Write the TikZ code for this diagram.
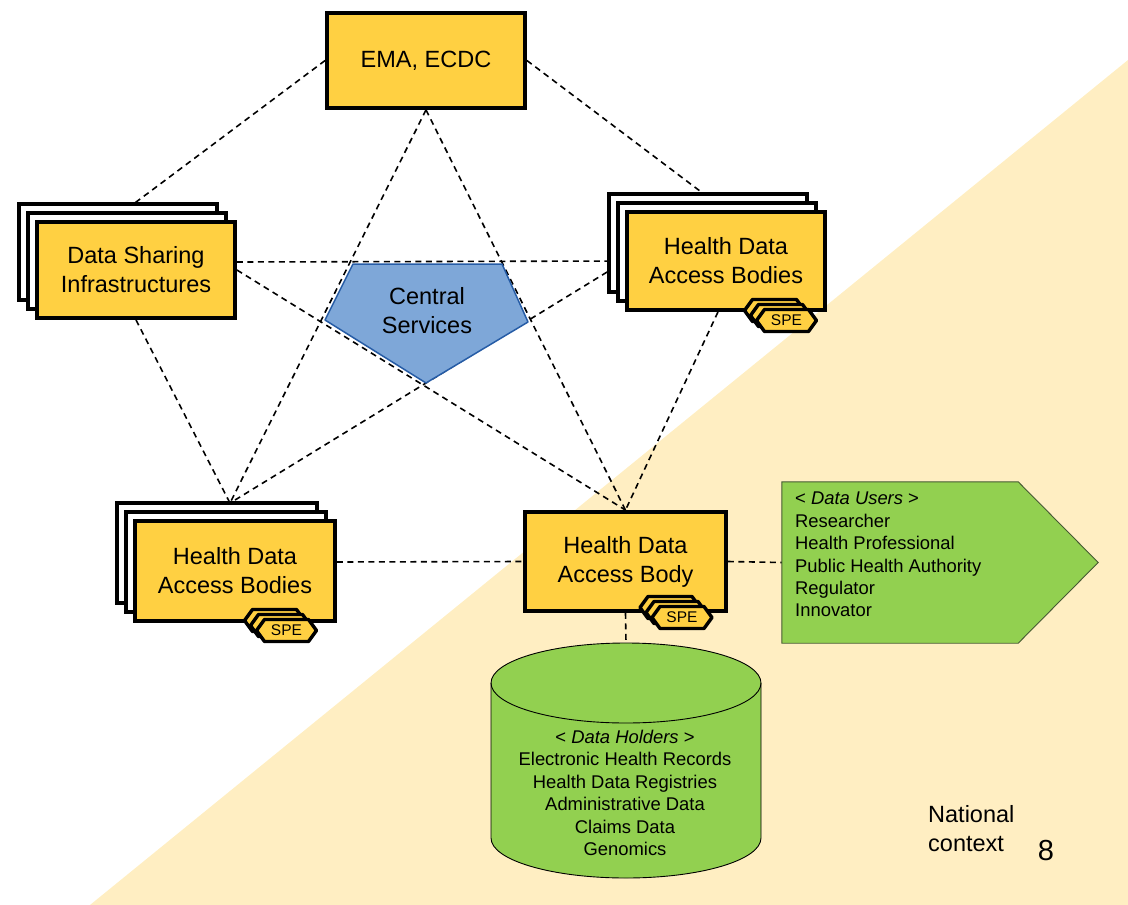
\documentclass[tikz,border=0pt]{standalone}
\usepackage{fontspec}
\setmainfont{Liberation Sans}
\usetikzlibrary{calc}
\definecolor{boxyellow}{RGB}{255,208,66}
\definecolor{beige}{RGB}{255,238,194}
\definecolor{ugreen}{RGB}{146,208,80}
\definecolor{ugreenline}{RGB}{70,90,50}
\definecolor{csblue}{RGB}{126,167,216}
\definecolor{csborder}{RGB}{38,92,166}
\newcommand\bxfont{\fontsize{23.5}{29}\selectfont}
\newcommand\smfont{\fontsize{18.4}{22.4}\selectfont}
\newcommand\spfont{\fontsize{15.5}{18}\selectfont}
\pgfdeclarelayer{back}
\pgfdeclarelayer{lines}
\pgfsetlayers{back,lines,main}
\tikzset{
  box/.style={draw=black, line width=3.8pt, fill=boxyellow, inner sep=0pt, align=center, font=\bxfont},
  layer/.style={draw=black, line width=3.8pt, fill=white, inner sep=0pt},
  conn/.style={line width=1.6pt, dash pattern=on 6pt off 4.5pt},
  hexa/.style={draw=black, line width=3.4pt, fill=boxyellow, line join=round},
  plain/.style={inner sep=0pt, font=\bxfont},
  spe/.pic={
    \foreach \d in {2,1,0} {
      \draw[hexa, shift={(-6*\d,5*\d)}] (-30,0) -- (-22,11) -- (22,11) -- (30,0) -- (22,-11) -- (-22,-11) -- cycle;
    }
    \node[inner sep=0pt, font=\spfont] (-t) at (0,0) {SPE};
  }
}
\begin{document}
\begin{tikzpicture}[x=1pt,y=1pt]
\useasboundingbox (0,0) rectangle (1128,-905);
\begin{pgfonlayer}{back}
  \fill[beige] (90,-905) -- (1128,-60) -- (1128,-905) -- cycle;
\end{pgfonlayer}

% Central Services pentagon
\draw[fill=csblue, draw=csborder, line width=1.5pt, line join=round]
  (353,-264) -- (502,-264) -- (528,-322) -- (426,-383) -- (325,-320) -- cycle;
\node[plain, align=center] (cs) at (427,-311) {Central\\Services};

% EMA
\node[box, minimum width=198pt, minimum height=95pt] (ema) at (426,-60.5) {EMA, ECDC};

% Data Sharing Infrastructures stack
\node[layer, minimum width=198pt, minimum height=96pt] (dsiC) at (118,-252) {};
\node[layer, minimum width=198pt, minimum height=96pt] (dsiB) at (127,-261) {};
\node[box, minimum width=198pt, minimum height=96pt] (dsi) at (136,-270) {Data Sharing\\Infrastructures};

% HDABs top right
\node[layer, minimum width=198pt, minimum height=98pt] (trC) at (708,-243) {};
\node[layer, minimum width=198pt, minimum height=98pt] (trB) at (717,-252) {};
\node[box, minimum width=198pt, minimum height=98pt] (hdabTR) at (726,-261) {Health Data\\Access Bodies};
\pic (speTR) at (786.5,-320.5) {spe};

% HDABs bottom left
\node[layer, minimum width=200pt, minimum height=100pt] (blC) at (217,-553) {};
\node[layer, minimum width=200pt, minimum height=100pt] (blB) at (226,-562) {};
\node[box, minimum width=200pt, minimum height=100pt] (hdabBL) at (235,-571) {Health Data\\Access Bodies};
\pic (speBL) at (286.5,-630.5) {spe};

% HDAB single
\node[box, minimum width=201pt, minimum height=99pt] (hdab) at (625.5,-561.5) {Health Data\\Access Body};
\pic (speH) at (682,-617.5) {spe};

% Data users
\node[inner sep=0pt, minimum width=236pt, minimum height=161pt] (users) at (900,-562.5) {};
\draw[fill=ugreen, draw=ugreenline, line width=0.9pt]
  (users.north west) -- (users.north east) -- ($(users.east)+(80,0)$) -- (users.south east) -- (users.south west) -- cycle;
\node[inner sep=0pt, anchor=north west, align=left, font=\smfont] (userstxt) at (795,-492)
  {< \textit{Data Users} >\\Researcher\\Health Professional\\Public Health Authority\\Regulator\\Innovator};

% Data holders cylinder
\node[inner sep=0pt, minimum width=270pt, minimum height=235pt] (cyl) at (626,-760.5) {};
\draw[fill=ugreen, draw=black, line width=0.9pt]
  (491,-683) -- (491,-838) arc[start angle=180,end angle=360,x radius=135,y radius=40]
  -- (761,-683) arc[start angle=0,end angle=180,x radius=135,y radius=40] -- cycle;
\draw[line width=0.9pt] (491,-683) arc[start angle=180,end angle=360,x radius=135,y radius=40];
\node[inner sep=0pt, anchor=north, align=center, font=\smfont] (holders) at (625,-730)
  {< \textit{Data Holders} >\\Electronic Health Records\\Health Data Registries\\Administrative Data\\Claims Data\\Genomics};

% National context
\node[plain, anchor=north west, align=left] (nat) at (928,-805) {National\\context};
\node[inner sep=0pt, anchor=base, font=\fontsize{29}{34}\selectfont] (pg) at (1046,-860) {8};

% connectors
\begin{pgfonlayer}{lines}
  \draw[conn] (ema.west) -- ($(dsi.north)+(-8,12)$);
  \draw[conn] (ema.east) -- ($(hdabTR.north)+(-14,10)$);
  \draw[conn] (ema.south) -- ($(hdabBL.north)+(-5,16)$);
  \draw[conn] (ema.south) -- (hdab.north);
  \draw[conn] ($(dsi.east)+(0,8)$) -- (hdabTR.west);
  \draw[conn] (dsi.east) -- (hdab.north);
  \draw[conn] (hdabTR.west) -- ($(hdabBL.north)+(-5,16)$);
  \draw[conn] (dsi.south) -- ($(hdabBL.north)+(-5,16)$);
  \draw[conn] ($(hdabTR.south)+(-8,0)$) -- (hdab.north);
  \draw[conn] ($(hdabBL.east)+(0,9)$) -- (hdab.west);
  \draw[conn] (hdab.east) -- (users.west);
  \draw[conn] (hdab.south) -- (cyl.north);
\end{pgfonlayer}
\end{tikzpicture}
\end{document}
